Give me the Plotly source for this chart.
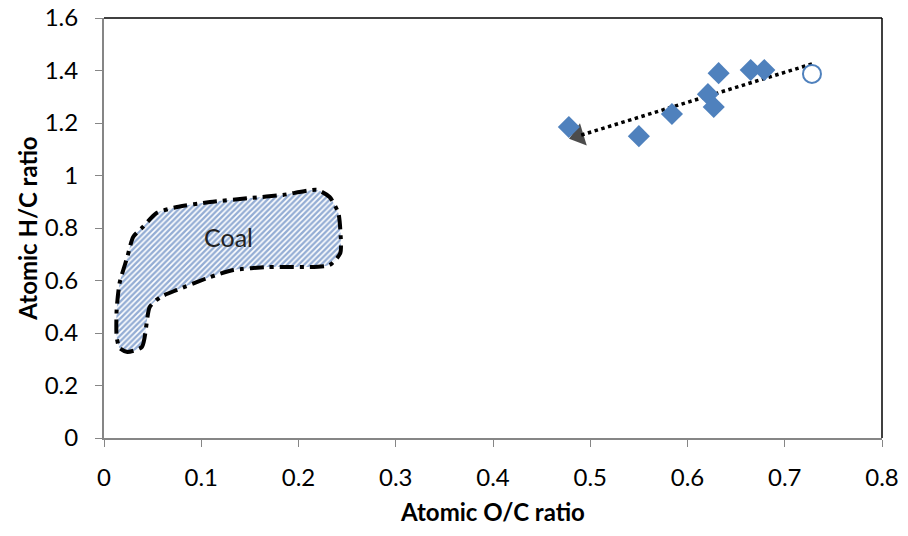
import plotly.graph_objects as go

# Sample data (diamonds)
oc_ratio = [0.478, 0.550, 0.584, 0.621, 0.627, 0.632, 0.665, 0.679]
hc_ratio = [1.185, 1.150, 1.234, 1.310, 1.261, 1.390, 1.402, 1.402]

# Open circle point
circle_oc = [0.728]
circle_hc = [1.387]

# Trend arrow (start, head)
arrow_oc = [0.728, 0.488]
arrow_hc = [1.425, 1.151]

# Coal region outline
coal_oc = [0.024, 0.039, 0.047, 0.058, 0.075, 0.109, 0.133, 0.168, 0.232, 0.243,
           0.243, 0.241, 0.232, 0.219, 0.184, 0.150, 0.109, 0.075, 0.054, 0.040,
           0.030, 0.024, 0.016, 0.013, 0.013, 0.016, 0.024]
coal_hc = [0.328, 0.347, 0.499, 0.537, 0.564, 0.613, 0.640, 0.651, 0.659, 0.705,
           0.792, 0.857, 0.918, 0.945, 0.926, 0.914, 0.899, 0.880, 0.857, 0.804,
           0.766, 0.690, 0.590, 0.488, 0.385, 0.343, 0.328]

x_ticks = [0, 0.1, 0.2, 0.3, 0.4, 0.5, 0.6, 0.7, 0.8]
x_ticktext = ["0", "0.1", "0.2", "0.3", "0.4", "0.5", "0.6", "0.7", "0.8"]
y_ticks = [0, 0.2, 0.4, 0.6, 0.8, 1.0, 1.2, 1.4, 1.6]
y_ticktext = ["0", "0.2", "0.4", "0.6", "0.8", "1", "1.2", "1.4", "1.6"]

blue = "#4F81BD"
font_family = "Lato, Open Sans, sans-serif"

fig = go.Figure()

fig.add_trace(go.Scatter(
    x=coal_oc, y=coal_hc, mode="lines", fill="toself",
    fillcolor="rgba(0,0,0,0)",
    fillpattern=dict(shape="/", fgcolor="#2A5CAA", bgcolor="white", size=4, solidity=0.6),
    line=dict(color="black", width=4, dash="14px,6px,4px,6px", shape="spline", smoothing=0.6),
    hoverinfo="skip", showlegend=False,
))

fig.add_trace(go.Scatter(
    x=arrow_oc, y=arrow_hc, mode="lines+markers",
    line=dict(color="black", width=3.5, dash="dot"),
    marker=dict(symbol=["circle", "triangle-up"], size=[0, 20], color="black",
                angleref="previous", line=dict(width=0)),
    showlegend=False, hoverinfo="skip",
))

fig.add_trace(go.Scatter(
    x=oc_ratio, y=hc_ratio, mode="markers",
    marker=dict(symbol="diamond", size=17, color=blue, line=dict(width=0)),
    showlegend=False,
))

fig.add_trace(go.Scatter(
    x=circle_oc, y=circle_hc, mode="markers",
    marker=dict(symbol="circle", size=18, color="white", line=dict(color=blue, width=2)),
    showlegend=False,
))

fig.add_annotation(x=0.128, y=0.766, text="Coal", showarrow=False,
                   font=dict(family=font_family, size=25, color="#222222"))

fig.update_layout(
    width=908, height=536,
    margin=dict(l=104, r=26, t=18, b=98),
    paper_bgcolor="white", plot_bgcolor="white",
    font=dict(family=font_family, size=24, color="black"),
    xaxis=dict(range=[0, 0.8], tickvals=x_ticks, ticktext=x_ticktext, automargin=False,
               showgrid=False, zeroline=False, showline=True, linecolor="#868686", linewidth=2,
               ticks="outside", ticklen=7, tickcolor="#868686", ticklabelstandoff=10,
               title=dict(text="<b>Atomic O/C ratio</b>", font=dict(size=24), standoff=14)),
    yaxis=dict(range=[0, 1.6], tickvals=y_ticks, ticktext=y_ticktext, automargin=False,
               showgrid=False, zeroline=False, showline=True, linecolor="#868686", linewidth=2,
               ticks="outside", ticklen=7, tickcolor="#868686", ticklabelstandoff=12,
               title=dict(text="<b>Atomic H/C ratio</b>", font=dict(size=24), standoff=0)),
    shapes=[
        dict(type="line", xref="x domain", yref="y domain", x0=0, x1=1, y0=1, y1=1,
             line=dict(color="black", width=1.5)),
        dict(type="line", xref="x domain", yref="y domain", x0=1, x1=1, y0=0, y1=1,
             line=dict(color="black", width=1.5)),
    ],
)

fig.write_html("out.html")
